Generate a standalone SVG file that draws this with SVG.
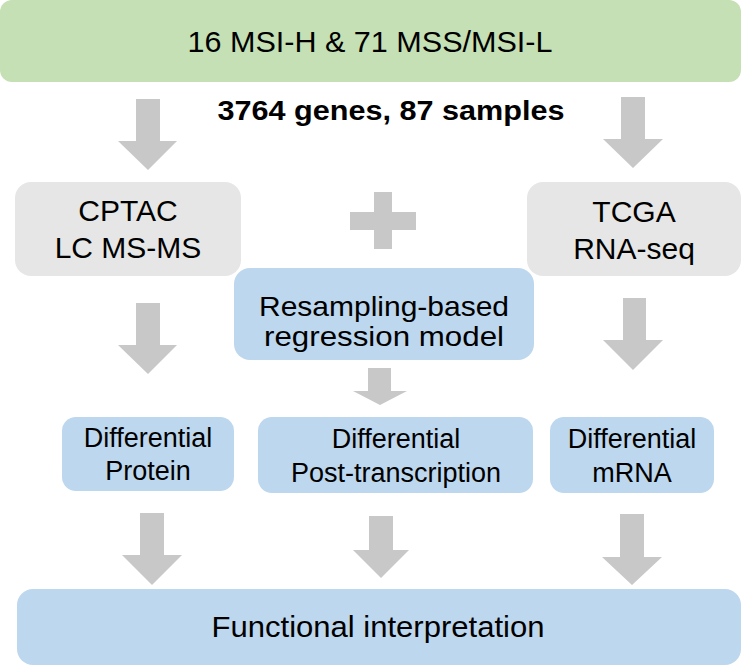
<svg xmlns="http://www.w3.org/2000/svg" width="742" height="666" viewBox="0 0 742 666">
<style>
text{font-family:"Liberation Sans",Arial,Helvetica,sans-serif;fill:#000;text-anchor:middle}
.t30{font-size:30px}
.t28{font-size:28px}
.t27{font-size:27px}
.b{font-weight:bold;font-size:28px}
.green{fill:#c5e0b4}
.gray{fill:#e6e6e6}
.blue{fill:#bdd7ee}
.arrow{fill:#c8c8c8}
</style>
<rect width="742" height="666" fill="#ffffff"/>
<g id="cohort">
<rect class="green" x="0" y="0" width="741" height="82" rx="12"/>
<text class="t30" x="370" y="52" textLength="365" lengthAdjust="spacingAndGlyphs">16 MSI-H &amp; 71 MSS/MSI-L</text>
</g>
<g id="summary">
<text class="b" x="391" y="120" textLength="347" lengthAdjust="spacingAndGlyphs">3764 genes, 87 samples</text>
</g>
<g id="cptac">
<rect class="gray" x="15" y="182" width="226" height="94" rx="16"/>
<text class="t30" x="128" y="221">CPTAC</text>
<text class="t30" x="128" y="258">LC MS-MS</text>
</g>
<g id="plus">
<rect class="arrow" x="374" y="192" width="18" height="57"/>
<rect class="arrow" x="350" y="212" width="66" height="18"/>
</g>
<g id="tcga">
<rect class="gray" x="527" y="182" width="214" height="94" rx="16"/>
<text class="t30" x="634" y="222">TCGA</text>
<text class="t30" x="634" y="259">RNA-seq</text>
</g>
<g id="model">
<rect class="blue" x="234" y="268" width="300" height="92" rx="16"/>
<text class="t28" x="384" y="316" textLength="250" lengthAdjust="spacingAndGlyphs">Resampling-based</text>
<text class="t28" x="384" y="346" textLength="240" lengthAdjust="spacingAndGlyphs">regression model</text>
</g>
<g id="protein">
<rect class="blue" x="62" y="417" width="172" height="74" rx="14"/>
<text class="t27" x="148" y="447">Differential</text>
<text class="t27" x="148" y="480">Protein</text>
</g>
<g id="posttranscription">
<rect class="blue" x="258" y="417" width="275" height="76" rx="14"/>
<text class="t27" x="396" y="448">Differential</text>
<text class="t27" x="396" y="482">Post-transcription</text>
</g>
<g id="mrna">
<rect class="blue" x="550" y="417" width="164" height="76" rx="14"/>
<text class="t27" x="632" y="448">Differential</text>
<text class="t27" x="632" y="482">mRNA</text>
</g>
<g id="functional">
<rect class="blue" x="17" y="589" width="724" height="76" rx="16"/>
<text class="t30" x="378" y="637" textLength="333" lengthAdjust="spacingAndGlyphs">Functional interpretation</text>
</g>
<g id="connectors">
<polygon class="arrow" points="136,99 160,99 160,141 177,141 148,170 118,141 136,141"/>
<polygon class="arrow" points="621,97 645,97 645,139 663,139 633,168 603,139 621,139"/>
<polygon class="arrow" points="136,303 160,303 160,345 177,345 148,374 118,345 136,345"/>
<polygon class="arrow" points="623,298 646,298 646,340 663,340 633,370 603,340 623,340"/>
<polygon class="arrow" points="368,368 391,368 391,391 407,391 380,405 353,391 368,391"/>
<polygon class="arrow" points="140,513 164,513 164,555 182,555 152,585 122,555 140,555"/>
<polygon class="arrow" points="369,516 393,516 393,550 409,550 381,578 353,550 369,550"/>
<polygon class="arrow" points="620,514 644,514 644,557 662,557 632,585 602,557 620,557"/>
</g>
</svg>
